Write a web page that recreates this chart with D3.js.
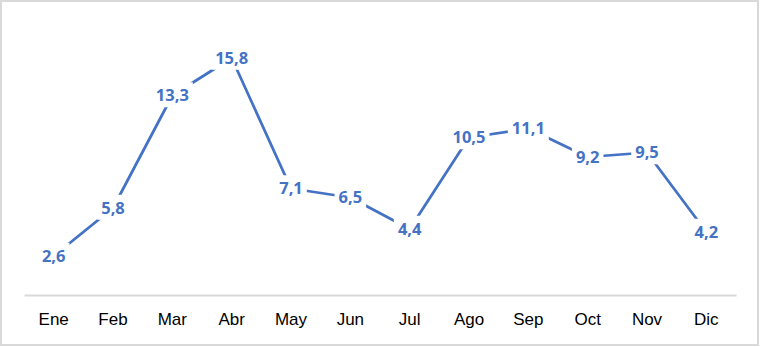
<!DOCTYPE html>
<html>
<head>
<meta charset="utf-8">
<script src="https://cdn.jsdelivr.net/npm/d3@7"></script>
<style>
  body { margin: 0; background: #fff; }
  svg { display: block; font-family: "Open Sans", "Noto Sans", sans-serif; }
</style>
</head>
<body>
<svg id="chart"></svg>
<script>
// monthly values
const months = ["Ene", "Feb", "Mar", "Abr", "May", "Jun", "Jul", "Ago", "Sep", "Oct", "Nov", "Dic"];
const values = [2.6, 5.8, 13.3, 15.8, 7.1, 6.5, 4.4, 10.5, 11.1, 9.2, 9.5, 4.2];

const width = 760;
const height = 347;

const svg = d3.select("#chart")
  .attr("width", width)
  .attr("height", height);

// outer border of the chart area
svg.append("rect")
  .attr("x", 1)
  .attr("y", 1)
  .attr("width", width - 3)
  .attr("height", height - 3)
  .attr("fill", "#fff")
  .attr("stroke", "#d9d9d9")
  .attr("stroke-width", 2);

const x = d3.scaleBand()
  .domain(months)
  .range([24, 736]);

const y = d3.scaleLinear()
  .domain([0, 18])
  .range([295, 25]);

// category axis
const xAxis = svg.append("g")
  .attr("transform", "translate(0,295)")
  .call(d3.axisBottom(x).tickSize(0).tickPadding(18));

xAxis.select(".domain").attr("stroke", "#d9d9d9").attr("stroke-width", 2);
xAxis.selectAll("text")
  .attr("font-size", 17)
  .attr("fill", "#000");

const data = months.map((m, i) => ({ month: m, value: values[i] }));

const line = d3.line()
  .x((d) => x(d.month) + x.bandwidth() / 2)
  .y((d) => y(d.value));

svg.append("path")
  .datum(data)
  .attr("d", line)
  .attr("fill", "none")
  .attr("stroke", "#4472c4")
  .attr("stroke-width", 2.75)
  .attr("stroke-linejoin", "round");

// data labels centred on the points, with a white box to hide the line
const labels = svg.selectAll(".lbl")
  .data(data)
  .enter()
  .append("g")
  .attr("class", "lbl")
  .attr("transform", (d) => "translate(" + (x(d.month) + x.bandwidth() / 2) + "," + y(d.value) + ")");

const texts = labels.append("text")
  .attr("text-anchor", "middle")
  .attr("dy", "0.35em")
  .attr("font-size", 16.5)
  .attr("font-weight", "bold")
  .attr("fill", "#4472c4")
  .text((d) => d3.format(".1f")(d.value).replace(".", ","));

texts.each(function () {
  const b = this.getBBox();
  d3.select(this.parentNode)
    .insert("rect", "text")
    .attr("x", b.x - 4)
    .attr("y", b.y - 1)
    .attr("width", b.width + 8)
    .attr("height", b.height + 2)
    .attr("fill", "#fff");
});
</script>
</body>
</html>
